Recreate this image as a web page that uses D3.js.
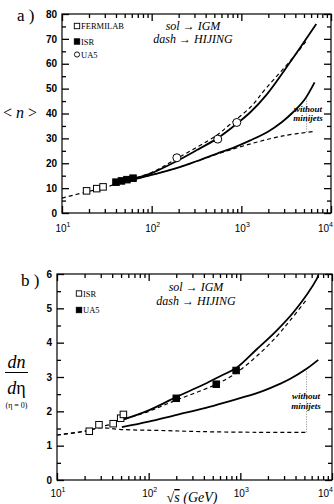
<!DOCTYPE html>
<html><head><meta charset="utf-8">
<script src="https://cdn.jsdelivr.net/npm/d3@7"></script>
<style>body{margin:0;background:#fff}svg{display:block}</style>
</head><body>
<script>
// ---------- DATA ----------
const xTickLabelsA = [10, 100, 1000, 10000];
const yTicksA = [0,10,20,30,40,50,60,70,80];
const yTicksB = [0,1,2,3,4,5,6];

// Panel a: <n>
const fermilabA = [[18.8,8.9],[24.4,9.8],[28.7,10.5]];
const isrA = [[40,12.4],[46,12.9],[53,13.4],[62,14.0]];
const ua5A = [[191,22.2],[546,29.7],[890,36.4]];
const igmA = [[42,12.1],[62,13.6],[100,16.0],[189,20.8],[316,25.2],[528,29.8],[802,34.6],[1260,40.5],[1905,47.5],[3460,60.4],[6850,76.0]];
const igmNoJetA = [[42,12.0],[62,13.4],[100,15.3],[189,18.0],[316,20.8],[528,23.8],[810,26.2],[1260,29.2],[1980,32.7],[2820,36.5],[3770,40.5],[5010,45.3],[6560,52.5]];
const hijingA = [[10,6.0],[18.8,8.5],[28.7,10.0],[46,12.5],[100,16.3],[189,21.8],[528,31.2],[740,35.5],[1260,42.5],[1905,50.3],[3930,63.2],[5300,69.2]];
const hijingNoJetA = [[62,13.4],[100,15.3],[189,18.0],[316,20.8],[528,23.6],[1240,27.7],[2910,31.0],[6560,32.8]];
const dottedA = [[5350,32.6],[5350,46.0]];

// Panel b: dn/deta
const isrB = [[22.5,1.42],[28.7,1.61],[41,1.64],[49.5,1.80],[53,1.91]];
const ua5B = [[200,2.38],[546,2.79],[900,3.19]];
const igmB = [[51,1.75],[100,2.03],[202,2.42],[398,2.78],[631,3.05],[912,3.27],[1500,3.80],[2490,4.35],[3980,4.95],[6800,5.85],[7100,5.97]];
const igmNoJetB = [[51,1.54],[100,1.70],[202,1.90],[420,2.10],[770,2.30],[1600,2.55],[2700,2.80],[3470,2.94],[5280,3.24],[7080,3.50]];
const hijingB = [[10,1.31],[22,1.44],[29,1.54],[41,1.64],[52,1.75],[100,2.0],[202,2.33],[507,2.75],[837,3.06],[1500,3.6],[2490,4.18],[3470,4.64],[5280,5.25]];
const hijingNoJetB = [[10,1.31],[22,1.44],[29,1.52],[51,1.47],[150,1.44],[363,1.41],[1500,1.39],[5280,1.39]];
const dottedB = [[5280,1.39],[5280,3.22]];

// ---------- DRAW ----------
const W = 334, H = 504;
const svg = d3.select("body").append("svg").attr("width", W).attr("height", H);
const serif = "'Liberation Serif','DejaVu Serif',serif";
const sans = "'Liberation Sans',Arial,sans-serif";

function panel(o) {
  const x = d3.scaleLog().domain([10, 10000]).range(o.xr);
  const y = d3.scaleLinear().domain(o.yd).range(o.yr);
  const g = svg.append("g");
  const [x0, x1] = o.xr, [yb, yt] = o.yr;
  g.append("rect").attr("x", x0).attr("y", yt).attr("width", x1 - x0).attr("height", yb - yt)
    .attr("fill", "none").attr("stroke", "#000").attr("stroke-width", 1.2);
  const minors = [];
  for (let d = 10; d < 10000; d *= 10) for (let k = 2; k <= 9; k++) minors.push(d * k);
  const majors = xTickLabelsA;
  const MJ = -7, MN = -4;
  const axes = [
    [d3.axisBottom(x).tickValues(majors).tickSizeInner(MJ).tickSizeOuter(0), 0, yb],
    [d3.axisBottom(x).tickValues(minors).tickSizeInner(MN).tickSizeOuter(0), 0, yb],
    [d3.axisTop(x).tickValues(majors).tickSizeInner(MJ).tickSizeOuter(0), 0, yt],
    [d3.axisTop(x).tickValues(minors).tickSizeInner(MN).tickSizeOuter(0), 0, yt]
  ];
  const ym = [];
  for (let i = 0; i < o.yTicks.length - 1; i++) ym.push((o.yTicks[i] + o.yTicks[i + 1]) / 2);
  axes.push([d3.axisLeft(y).tickValues(o.yTicks).tickSizeInner(MJ).tickSizeOuter(0), x0, 0, true]);
  axes.push([d3.axisLeft(y).tickValues(ym).tickSizeInner(MN).tickSizeOuter(0), x0, 0]);
  axes.push([d3.axisRight(y).tickValues(o.yTicks).tickSizeInner(MJ).tickSizeOuter(0), x1, 0]);
  axes.push([d3.axisRight(y).tickValues(ym).tickSizeInner(MN).tickSizeOuter(0), x1, 0]);
  axes.forEach(([a, tx, ty, lab]) => {
    a.tickPadding(lab ? 5 : 0).tickFormat(lab ? d3.format("d") : () => "");
    const gg = g.append("g").attr("transform", `translate(${tx},${ty})`).call(a);
    gg.select(".domain").remove();
    gg.selectAll(".tick line").attr("stroke", "#000").attr("stroke-width", 1.3);
    if (lab) gg.selectAll(".tick text").attr("font-family", sans).attr("font-size", 10)
      .attr("font-weight", "bold").attr("fill", "#000");
    else gg.selectAll(".tick text").remove();
  });
  // x labels
  majors.forEach((v, i) => {
    const last = i === majors.length - 1;
    const t = g.append("text").attr("x", last ? W - 1 : x(v) + 1).attr("y", o.xlabY)
      .attr("text-anchor", last ? "end" : "middle")
      .attr("font-family", sans).attr("font-size", 10);
    t.append("tspan").text("10");
    t.append("tspan").attr("dy", -5).attr("font-size", 7).text(String(Math.round(Math.log10(v))));
  });
  const line = d3.line().x(d => x(d[0])).y(d => y(d[1])).curve(d3.curveCatmullRom.alpha(0.5));
  const draw = (data, style) => g.append("path").datum(data).attr("d", line).attr("fill", "none").attr("stroke", "#000")
    .attr("stroke-width", style === "solid" ? 1.8 : style === "dash" ? 1.2 : 0.8)
    .attr("stroke-dasharray", style === "solid" ? null : style === "dash" ? "4,3" : "1,1.5")
    .attr("stroke-opacity", style === "dot" ? 0.6 : 1);
  o.lines.forEach(([d, s]) => draw(d, s));
  const sq = (data, filled, s) => g.selectAll(null).data(data).enter().append("rect")
    .attr("x", d => x(d[0]) - s / 2).attr("y", d => y(d[1]) - s / 2).attr("width", s).attr("height", s)
    .attr("fill", filled ? "#000" : "#fff").attr("stroke", "#000").attr("stroke-width", 1);
  const ci = (data, r) => g.selectAll(null).data(data).enter().append("circle")
    .attr("cx", d => x(d[0])).attr("cy", d => y(d[1])).attr("r", r)
    .attr("fill", "#fff").attr("stroke", "#000").attr("stroke-width", 1);
  o.marks.forEach(([d, t]) => t === "open" ? sq(d, false, 6.5) : t === "fill" ? sq(d, true, 6.5) : ci(d, 4));
  return { x, y, g };
}

const A = panel({
  xr: [62, 331], yr: [213, 14], yd: [0, 80], yTicks: yTicksA, xlabY: 232,
  lines: [[dottedA, "dot"], [hijingA, "dash"], [hijingNoJetA, "dash"], [igmA, "solid"], [igmNoJetA, "solid"]],
  marks: [[fermilabA, "open"], [isrA, "fill"], [ua5A, "circ"]]
});
const B = panel({
  xr: [57, 332], yr: [480, 274], yd: [0, 6], yTicks: yTicksB, xlabY: 497,
  lines: [[dottedB, "dot"], [hijingB, "dash"], [hijingNoJetB, "dash"], [igmB, "solid"], [igmNoJetB, "solid"]],
  marks: [[isrB, "open"], [ua5B, "fill"]]
});

// legends
function legendItem(px, py, type, label) {
  if (type === "circ") svg.append("circle").attr("cx", px).attr("cy", py).attr("r", 2.6).attr("fill", "#fff").attr("stroke", "#000").attr("stroke-width", 0.9);
  else svg.append("rect").attr("x", px - 2.7).attr("y", py - 2.7).attr("width", 5.4).attr("height", 5.4)
    .attr("fill", type === "fill" ? "#000" : "#fff").attr("stroke", "#000").attr("stroke-width", 0.9);
  svg.append("text").attr("x", px + 4).attr("y", py + 3).attr("font-family", serif).attr("font-size", 8.5).text(label);
}
legendItem(77, 26, "open", "FERMILAB");
legendItem(77, 41.5, "fill", "ISR");
legendItem(77, 54.5, "circ", "UA5");
legendItem(79, 293.5, "open", "ISR");
legendItem(79, 310, "fill", "UA5");

function modelText(cx, y1, y2) {
  svg.append("text").attr("x", cx).attr("y", y1).attr("text-anchor", "middle").attr("font-family", serif).attr("font-style", "italic").attr("font-size", 12).text("sol \u2192 IGM");
  svg.append("text").attr("x", cx).attr("y", y2).attr("text-anchor", "middle").attr("font-family", serif).attr("font-style", "italic").attr("font-size", 12).text("dash \u2192 HIJING");
}
modelText(193, 30, 42.5);
modelText(196, 291, 305);

function noJet(cx, y1, y2) {
  [["without", y1], ["minijets", y2]].forEach(([t, yy]) => svg.append("text").attr("x", cx).attr("y", yy).attr("text-anchor", "middle")
    .attr("font-family", serif).attr("font-style", "italic").attr("font-weight", "bold").attr("font-size", 9).text(t));
}
noJet(308, 112, 120.5);
noJet(306, 399, 409);

// panel labels
svg.append("text").attr("x", 17).attr("y", 21).attr("font-family", serif).attr("font-size", 17).text("a )");
svg.append("text").attr("x", 21).attr("y", 285.5).attr("font-family", serif).attr("font-size", 17).text("b )");

// y titles
const ny = svg.append("text").attr("x", 20).attr("y", 118).attr("text-anchor", "middle").attr("font-family", serif).attr("font-size", 16);
ny.append("tspan").text("< ");
ny.append("tspan").attr("font-style", "italic").text("n");
ny.append("tspan").text(" >");
svg.append("text").attr("x", 16.5).attr("y", 368).attr("text-anchor", "middle").attr("font-family", serif).attr("font-style", "italic").attr("font-size", 18).text("dn");
svg.append("line").attr("x1", 5).attr("x2", 28).attr("y1", 372.5).attr("y2", 372.5).attr("stroke", "#000").attr("stroke-width", 1);
const de = svg.append("text").attr("x", 16.5).attr("y", 394).attr("text-anchor", "middle").attr("font-family", serif).attr("font-size", 18);
de.append("tspan").attr("font-style", "italic").text("d");
de.append("tspan").text("\u03b7");
svg.append("text").attr("x", 16.5).attr("y", 408).attr("text-anchor", "middle").attr("font-family", serif).attr("font-size", 8).text("(\u03b7 = 0)");

// x title (panel b)
const xt = svg.append("text").attr("x", 192).attr("y", 502).attr("text-anchor", "middle").attr("font-family", serif).attr("font-size", 14);
xt.append("tspan").text("\u221A");
xt.append("tspan").attr("font-style", "italic").attr("text-decoration", "overline").text("s");
xt.append("tspan").attr("font-style", "italic").text(" (GeV)");
</script>
</body></html>
